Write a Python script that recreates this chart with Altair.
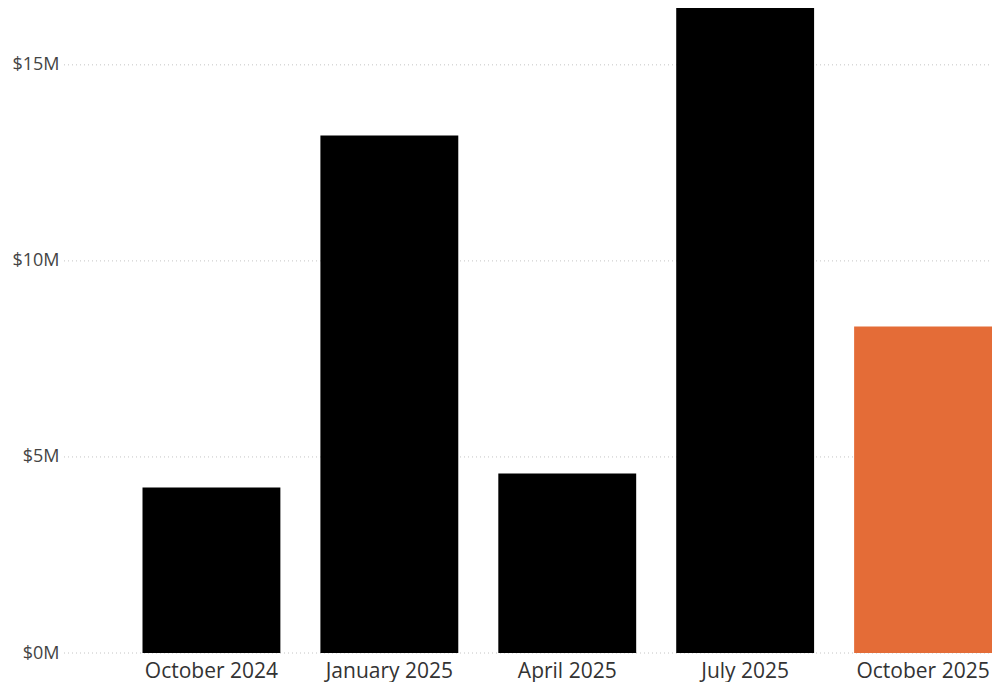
import altair as alt
import pandas as pd

quarters = ["October 2024", "January 2025", "April 2025", "July 2025", "October 2025"]
values_m = [4.22, 13.20, 4.58, 16.45, 8.33]
highlight = ["base", "base", "base", "base", "current"]
y_ticks = [0, 5, 10, 15]

PLOT_W = 928
PLOT_H = 645
Y_DOMAIN = [0, 16.45]

df = pd.DataFrame({"quarter": quarters, "value": values_m, "group": highlight})
grid_df = pd.DataFrame({"value": y_ticks})

y_axis = alt.Axis(
    values=y_ticks,
    labelExpr="'$' + datum.value + 'M'",
    labelFont="Open Sans",
    labelFontSize=18,
    labelColor="#444444",
    labelPadding=5,
    ticks=False,
    domain=False,
    grid=False,
)
y_scale = alt.Scale(domain=Y_DOMAIN, nice=False, zero=True)

grid = alt.Chart(grid_df).mark_rule(
    strokeDash=[1, 3], color="#c4c4c4", strokeWidth=1
).encode(
    y=alt.Y("value:Q", title=None, scale=y_scale, axis=y_axis),
    x=alt.value(0),
    x2=alt.value(PLOT_W),
)

bars = alt.Chart(df).mark_bar().encode(
    x=alt.X(
        "quarter:N",
        sort=quarters,
        title=None,
        scale=alt.Scale(range=[78.5, 928], paddingInner=0.225, paddingOuter=0),
        axis=alt.Axis(
            labelAngle=0,
            labelFont="Open Sans",
            labelFontSize=21,
            labelColor="#333333",
            labelPadding=7,
            ticks=False,
            domain=False,
            grid=False,
        ),
    ),
    y=alt.Y("value:Q", title=None, scale=y_scale, axis=y_axis),
    color=alt.Color(
        "group:N",
        scale=alt.Scale(domain=["base", "current"], range=["#000000", "#E46C37"]),
        legend=None,
    ),
)

chart = alt.layer(grid, bars).properties(
    width=PLOT_W,
    height=PLOT_H,
    padding={"left": 56, "top": 0, "right": 0, "bottom": 29},
    autosize=alt.AutoSizeParams(type="none"),
    background="white",
).configure_view(stroke=None)

chart.save("out.html", embed_options={"renderer": "svg", "actions": False})
